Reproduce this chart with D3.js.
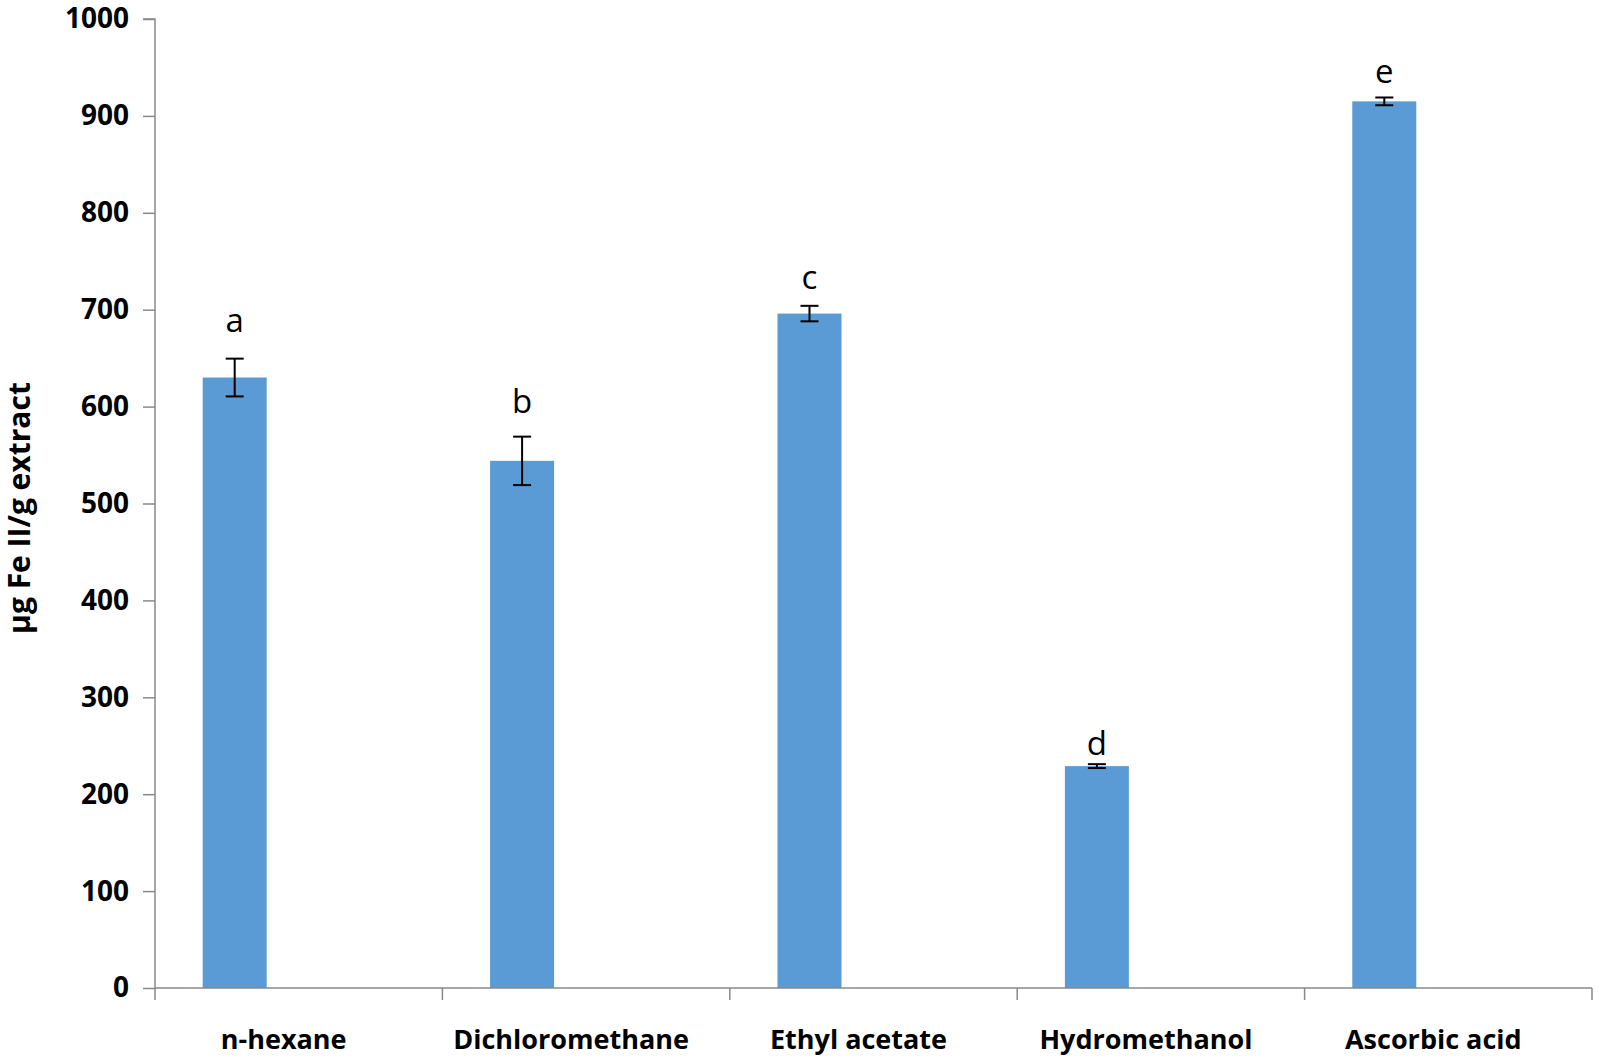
<!DOCTYPE html>
<html>
<head>
<meta charset="utf-8">
<script src="https://cdn.jsdelivr.net/npm/d3@7.9.0/dist/d3.min.js"></script>
<style>
  body { margin: 0; background: #fff; }
  svg { display: block; font-family: "Open Sans", sans-serif; }
</style>
</head>
<body>
<svg id="chart" width="1598" height="1056"></svg>
<script>
// data
const solvents = ['n-hexane', 'Dichloromethane', 'Ethyl acetate', 'Hydromethanol', 'Ascorbic acid'];
const feValues = [630, 544, 696, 229, 915];
const feErrors = [19.5, 25, 8, 2, 4];
const letters = ['a', 'b', 'c', 'd', 'e'];
const letterLevels = [677, 593, 721, 240, 934];
const yTicks = [0, 100, 200, 300, 400, 500, 600, 700, 800, 900, 1000];
// Excel-style cluster: only the first of three series slots holds data
const seriesSlots = ['s1', 's2', 's3'];

const svg = d3.select('#chart');
const plotLeft = 155, plotRight = 1592, plotTop = 19, plotBottom = 988;

const x = d3.scaleBand().domain(solvents).range([plotLeft, plotRight]).padding(0);
const xSub = d3.scaleBand().domain(seriesSlots).range([0, x.bandwidth()]).paddingInner(0).paddingOuter(0.745);
const y = d3.scaleLinear().domain([0, 1000]).range([plotBottom, plotTop]);

const axisColor = '#898989';

// y axis
const yAxis = svg.append('g')
    .attr('transform', `translate(${plotLeft},0)`)
    .call(d3.axisLeft(y).tickValues(yTicks).tickSize(12).tickPadding(14).tickFormat(d3.format('d')));
yAxis.select('.domain').attr('stroke', axisColor).attr('stroke-width', 1.5).attr('d', `M-12,${plotTop}H0V${plotBottom}`);
yAxis.selectAll('.tick line').attr('stroke', axisColor).attr('stroke-width', 1.5);
yAxis.selectAll('.tick text')
    .attr('font-size', 28).attr('font-weight', 'bold').attr('fill', '#000')
    .attr('font-family', '"Open Sans", sans-serif');

// bars
svg.append('g').selectAll('rect')
    .data(solvents)
    .join('rect')
    .attr('x', (d) => x(d) + xSub('s1'))
    .attr('width', xSub.bandwidth())
    .attr('y', (d, i) => y(feValues[i]))
    .attr('height', (d, i) => y(0) - y(feValues[i]))
    .attr('fill', '#5B9BD5');

// x axis
const xAxis = svg.append('g')
    .attr('transform', `translate(0,${plotBottom})`);
xAxis.append('line')
    .attr('x1', plotLeft).attr('x2', plotRight)
    .attr('stroke', axisColor).attr('stroke-width', 1.5);
const bounds = solvents.map((d) => x(d)).concat([plotRight]);
xAxis.selectAll('.xtick')
    .data(bounds)
    .join('line')
    .attr('class', 'xtick')
    .attr('x1', (d) => d).attr('x2', (d) => d)
    .attr('y1', 0).attr('y2', 12)
    .attr('stroke', axisColor).attr('stroke-width', 1.5);
xAxis.selectAll('text')
    .data(solvents)
    .join('text')
    .attr('x', (d) => x(d) + x.bandwidth() / 2 - 15)
    .attr('y', 61)
    .attr('text-anchor', 'middle')
    .attr('font-size', 27).attr('font-weight', 'bold')
    .text((d) => d);

// error bars
const errG = svg.append('g').attr('stroke', '#000').attr('stroke-width', 2);
solvents.forEach((d, i) => {
  const cx = x(d) + xSub('s1') + xSub.bandwidth() / 2;
  const hi = y(feValues[i] + feErrors[i]);
  const lo = y(feValues[i] - feErrors[i]);
  errG.append('line').attr('x1', cx).attr('x2', cx).attr('y1', hi).attr('y2', lo);
  errG.append('line').attr('x1', cx - 9).attr('x2', cx + 9).attr('y1', hi).attr('y2', hi);
  errG.append('line').attr('x1', cx - 9).attr('x2', cx + 9).attr('y1', lo).attr('y2', lo);
});

// significance letters
svg.append('g').selectAll('text')
    .data(letters)
    .join('text')
    .attr('x', (d, i) => x(solvents[i]) + xSub('s1') + xSub.bandwidth() / 2)
    .attr('y', (d, i) => y(letterLevels[i]))
    .attr('text-anchor', 'middle')
    .attr('font-size', 33)
    .text((d) => d);

// y axis title
svg.append('text')
    .attr('transform', 'translate(30,508) rotate(-90)')
    .attr('text-anchor', 'middle')
    .attr('font-size', 30).attr('font-weight', 'bold')
    .text('µg Fe II/g extract');
</script>
</body>
</html>
